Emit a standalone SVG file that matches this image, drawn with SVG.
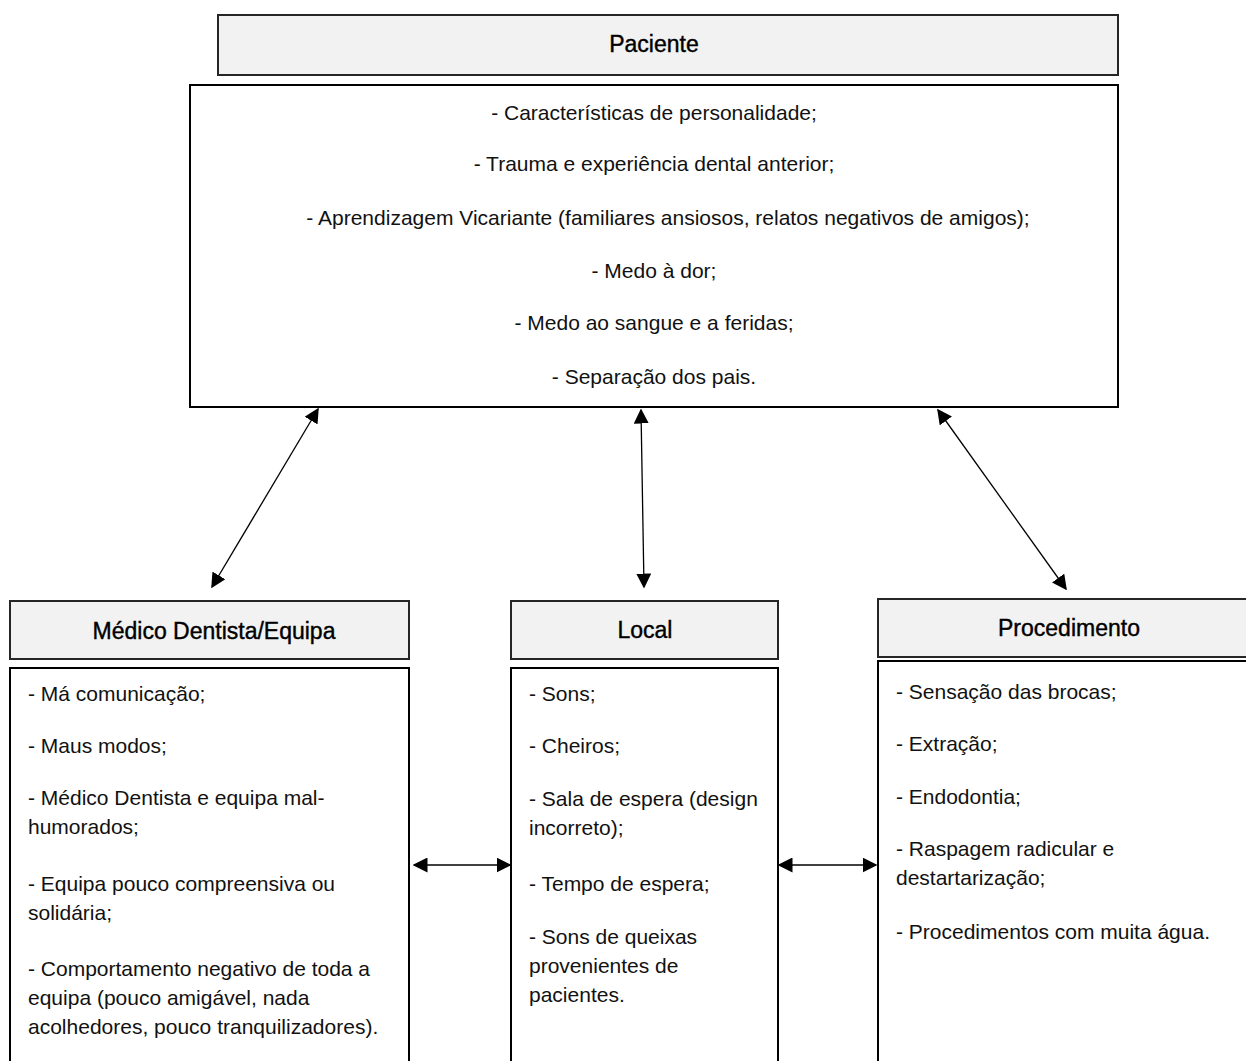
<svg xmlns="http://www.w3.org/2000/svg" width="1246" height="1061" viewBox="0 0 1246 1061">
<defs>
<marker id="ah" viewBox="0 0 10 10" refX="9" refY="5" markerWidth="15" markerHeight="15" markerUnits="userSpaceOnUse" orient="auto-start-reverse"><path d="M0,0 L10,5 L0,10 z" fill="#000"/></marker>
<style>
.hd{fill:#f2f2f2;stroke:#262626;stroke-width:2}
.bd{fill:#fff;stroke:#000;stroke-width:2}
text{font-family:"Liberation Sans",Arial,sans-serif;font-size:21px;fill:#111}
.t{font-size:23px;fill:#000;stroke:#000;stroke-width:0.4}
.c{text-anchor:middle}
.cn{stroke:#000;stroke-width:1.3;fill:none;marker-start:url(#ah);marker-end:url(#ah)}
</style>
</defs>
<rect width="1246" height="1061" fill="#fff"/>
<g id="paciente">
<rect class="hd" x="218" y="15" width="900" height="60"/>
<text class="t c" x="654" y="52">Paciente</text>
<rect class="bd" x="190" y="85" width="928" height="322"/>
<g class="c">
<text x="654" y="120">- Características de personalidade;</text>
<text x="654" y="171">- Trauma e experiência dental anterior;</text>
<text x="668" y="225">- Aprendizagem Vicariante (familiares ansiosos, relatos negativos de amigos);</text>
<text x="654" y="278">- Medo à dor;</text>
<text x="654" y="330">- Medo ao sangue e a feridas;</text>
<text x="654" y="384">- Separação dos pais.</text>
</g>
</g>
<g id="medico">
<rect class="hd" x="10" y="601" width="399" height="58"/>
<text class="t c" x="214" y="639">Médico Dentista/Equipa</text>
<rect class="bd" x="10" y="668" width="399" height="420"/>
<text x="28" y="701">- Má comunicação;</text>
<text x="28" y="753">- Maus modos;</text>
<text x="28" y="805">- Médico Dentista e equipa mal-</text>
<text x="28" y="834">humorados;</text>
<text x="28" y="891">- Equipa pouco compreensiva ou</text>
<text x="28" y="920">solidária;</text>
<text x="28" y="976">- Comportamento negativo de toda a</text>
<text x="28" y="1005">equipa (pouco amigável, nada</text>
<text x="28" y="1034">acolhedores, pouco tranquilizadores).</text>
</g>
<g id="local">
<rect class="hd" x="511" y="601" width="267" height="58"/>
<text class="t c" x="645" y="638">Local</text>
<rect class="bd" x="511" y="668" width="267" height="420"/>
<text x="529" y="701">- Sons;</text>
<text x="529" y="753">- Cheiros;</text>
<text x="529" y="806">- Sala de espera (design</text>
<text x="529" y="835">incorreto);</text>
<text x="529" y="891">- Tempo de espera;</text>
<text x="529" y="944">- Sons de queixas</text>
<text x="529" y="973">provenientes de</text>
<text x="529" y="1002">pacientes.</text>
</g>
<g id="procedimento">
<rect class="hd" x="878" y="599" width="400" height="58"/>
<text class="t c" x="1069" y="636">Procedimento</text>
<rect class="bd" x="878" y="661" width="400" height="420"/>
<text x="896" y="699">- Sensação das brocas;</text>
<text x="896" y="751">- Extração;</text>
<text x="896" y="804">- Endodontia;</text>
<text x="896" y="856">- Raspagem radicular e</text>
<text x="896" y="885">destartarização;</text>
<text x="896" y="939">- Procedimentos com muita água.</text>
</g>
<g id="connectors">
<line class="cn" x1="318" y1="409" x2="212" y2="587"/>
<line class="cn" x1="641" y1="410" x2="644" y2="587"/>
<line class="cn" x1="938" y1="410" x2="1066" y2="589"/>
<line class="cn" x1="414" y1="865" x2="510" y2="865"/>
<line class="cn" x1="779" y1="865" x2="876" y2="865"/>
</g>
</svg>
